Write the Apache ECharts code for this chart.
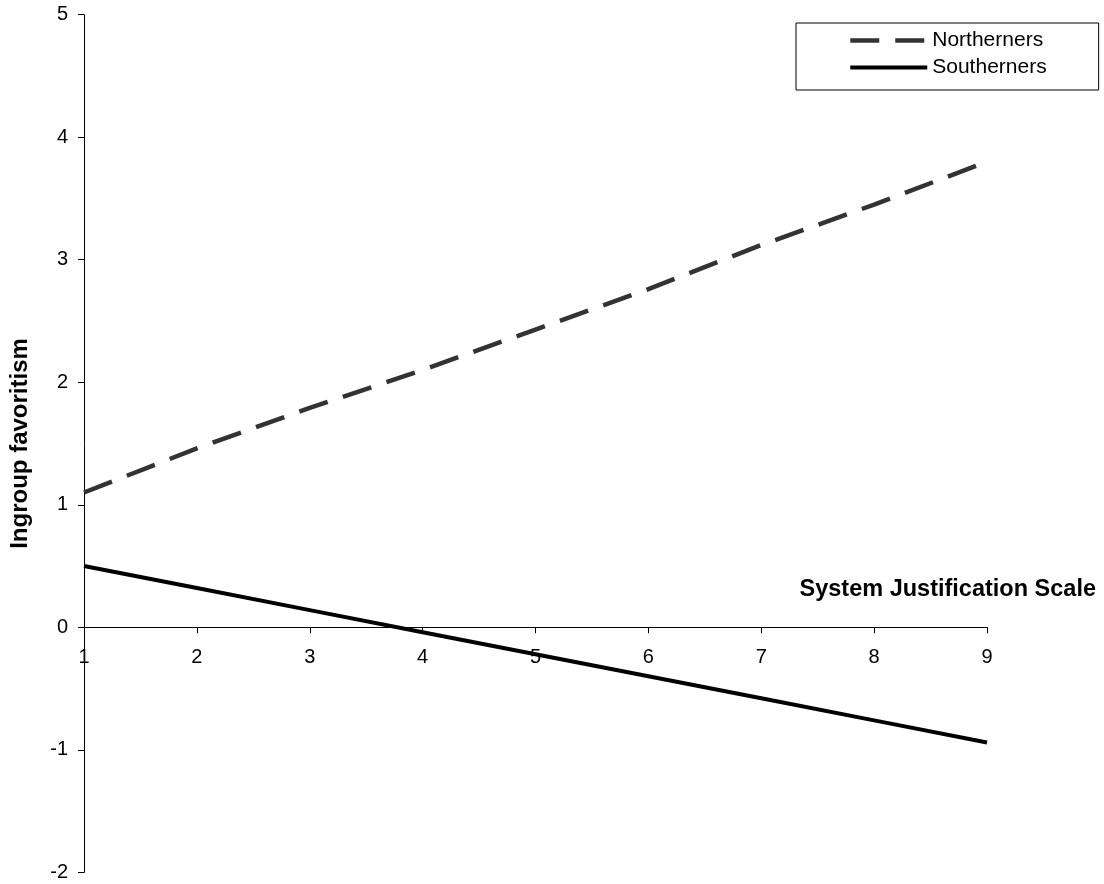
<!DOCTYPE html>
<html><head><meta charset="utf-8">
<script src="https://cdn.jsdelivr.net/npm/echarts@6/dist/echarts.min.js"></script>
<style>html,body{margin:0;padding:0;background:#fff}#c{width:1104px;height:884px}</style>
</head><body><div id="c"></div>
<script>
const xValues = [1, 2, 3, 4, 5, 6, 7, 8, 9];
const northerners = [1.10, 1.46, 1.79, 2.10, 2.43, 2.76, 3.12, 3.45, 3.80];
const southerners = [0.50, 0.32, 0.14, -0.04, -0.22, -0.40, -0.58, -0.76, -0.94];
const seriesNames = ['Northerners', 'Southerners'];
const xTitle = 'System Justification Scale';
const yTitle = 'Ingroup favoritism';
const yMin = -2, yMax = 5;

const font = 'Liberation Sans, Arial, sans-serif';
const gridTop = 14.7, gridBottom = 11.7, H = 884;
const plotH = H - gridTop - gridBottom;
const zeroOffset = -plotH * (0 - yMin) / (yMax - yMin);

const northStyle = {color: '#333', width: 4.5, type: [30, 16]};
const southStyle = {color: '#000', width: 4, type: 'solid'};

const chart = echarts.init(document.getElementById('c'), null, {renderer: 'canvas'});
chart.setOption({
  animation: false,
  backgroundColor: '#fff',
  grid: {left: 84, right: 117, top: gridTop, bottom: gridBottom, containLabel: false, outerBoundsMode: 'none'},
  title: {text: xTitle, right: 3, top: 573, textStyle: {fontFamily: font, fontSize: 23.5, fontWeight: 'bold', color: '#000'}},
  legend: {
    left: 796, top: 23, orient: 'vertical',
    padding: [7, 52, 12, 52],
    borderColor: '#000', borderWidth: 1, backgroundColor: '#fff',
    itemWidth: 77, itemHeight: 14, itemGap: 6,
    textStyle: {fontFamily: font, fontSize: 21, color: '#000'},
    itemStyle: {opacity: 0},
    data: [
      {name: seriesNames[0], itemStyle: {opacity: 0}, lineStyle: {color: '#333', width: 4.5, type: [29, 16]}},
      {name: seriesNames[1], itemStyle: {opacity: 0}, lineStyle: {color: '#000', width: 4, type: 'solid'}}
    ]
  },
  xAxis: {
    type: 'value', min: 1, max: 9, interval: 1,
    position: 'bottom', offset: zeroOffset,
    axisLine: {onZero: false, lineStyle: {color: '#000', width: 1}},
    axisTick: {show: true, length: 6, lineStyle: {color: '#000'}},
    axisLabel: {fontFamily: font, fontSize: 20, color: '#000', margin: 20},
    splitLine: {show: false}
  },
  yAxis: {
    type: 'value', min: yMin, max: yMax, interval: 1,
    name: yTitle, nameLocation: 'middle', nameGap: 52,
    nameTextStyle: {fontFamily: font, fontSize: 24, fontWeight: 'bold', color: '#000'},
    axisLine: {show: true, lineStyle: {color: '#000', width: 1}},
    axisTick: {show: true, length: 6, lineStyle: {color: '#000'}},
    axisLabel: {fontFamily: font, fontSize: 20, color: '#000', margin: 16},
    splitLine: {show: false}
  },
  series: [
    {name: seriesNames[0], type: 'line', showSymbol: false, symbol: 'none',
     data: xValues.map((x, i) => [x, northerners[i]]),
     lineStyle: northStyle, itemStyle: {color: '#333'}},
    {name: seriesNames[1], type: 'line', showSymbol: false, symbol: 'none',
     data: xValues.map((x, i) => [x, southerners[i]]),
     lineStyle: southStyle, itemStyle: {color: '#000'}}
  ]
});
</script></body></html>
